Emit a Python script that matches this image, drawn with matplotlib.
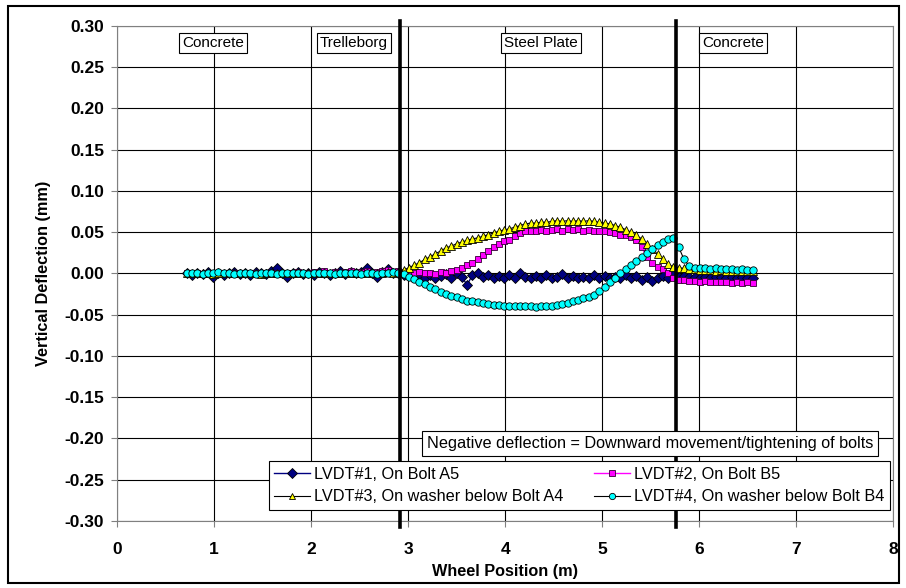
import numpy as np
import matplotlib
matplotlib.use("Agg")
import matplotlib.pyplot as plt
from matplotlib.patches import Rectangle

plt.rcParams['font.family'] = ['Liberation Sans', 'DejaVu Sans']

# wheel positions (m), evenly sampled from 0.72 to 6.55
wheel_pos = np.linspace(0.72, 6.5515, 108)

# LVDT#1, On Bolt A5
lvdt1 = [
    0.000, -0.002, 0.001, -0.001, 0.002, -0.004, 0.001, -0.002, 0.000, 0.002,
    -0.001, 0.001, -0.002, 0.002, 0.000, -0.001, 0.003, 0.006, 0.001, -0.004,
    0.000, 0.002, -0.001, 0.001, -0.002, 0.002, 0.000, -0.002, 0.001, 0.003,
    -0.001, 0.002, 0.000, 0.002, 0.006, 0.001, -0.004, 0.002, 0.005, 0.000,
    0.001, -0.002, 0.000, -0.004, -0.001, -0.005, -0.002, -0.006, -0.003, -0.001,
    -0.005, 0.000, -0.004, -0.014, -0.002, 0.001, -0.004, -0.002, -0.006, -0.003,
    -0.006, -0.002, -0.005, 0.001, -0.004, -0.006, -0.003, -0.005, -0.002, -0.006,
    -0.004, -0.001, -0.005, -0.003, -0.006, -0.004, -0.005, -0.002, -0.006, -0.003,
    -0.005, -0.004, -0.006, -0.002, -0.005, -0.003, -0.008, -0.004, -0.009, -0.005,
    -0.003, -0.006, -0.002, -0.004, -0.003, -0.004, -0.004, -0.005, -0.004, -0.005,
    -0.004, -0.004, -0.005, -0.004, -0.005, -0.004, -0.005, -0.005,
]

# LVDT#2, On Bolt B5
lvdt2 = [
    0.000, 0.001, 0.000, -0.001, 0.000, 0.001, 0.000, 0.000, -0.001, 0.000,
    0.001, 0.000, 0.000, 0.001, -0.001, 0.000, 0.001, 0.000, 0.000, 0.001,
    0.000, 0.002, 0.001, 0.000, 0.002, 0.001, 0.003, 0.001, 0.002, 0.000,
    0.002, 0.003, 0.001, 0.002, 0.003, 0.001, 0.002, 0.003, 0.004, 0.002,
    0.003, 0.002, 0.001, 0.000, 0.002, 0.000, 0.001, -0.001, 0.002, 0.000,
    0.003, 0.004, 0.006, 0.010, 0.013, 0.018, 0.022, 0.027, 0.032, 0.036,
    0.039, 0.041, 0.045, 0.049, 0.051, 0.052, 0.051, 0.053, 0.052, 0.053,
    0.054, 0.052, 0.054, 0.053, 0.054, 0.052, 0.053, 0.052, 0.051, 0.052,
    0.050, 0.049, 0.047, 0.046, 0.044, 0.041, 0.032, 0.020, 0.013, 0.008,
    0.005, 0.001, -0.006, -0.008, -0.008, -0.009, -0.009, -0.010, -0.009, -0.010,
    -0.011, -0.010, -0.011, -0.012, -0.011, -0.012, -0.011, -0.012,
]

# LVDT#3, On washer below Bolt A4
lvdt3 = [
    0.000, 0.000, 0.001, 0.000, 0.000, -0.001, 0.000, 0.001, 0.000, 0.000,
    0.000, 0.001, 0.000, 0.000, -0.001, 0.000, 0.000, 0.001, 0.000, 0.000,
    0.001, 0.000, 0.000, 0.000, 0.001, 0.000, 0.000, 0.001, 0.000, 0.001,
    0.000, 0.001, 0.000, 0.001, 0.001, 0.000, 0.001, 0.001, 0.002, 0.001,
    0.002, 0.004, 0.007, 0.010, 0.013, 0.017, 0.020, 0.024, 0.027, 0.031,
    0.033, 0.036, 0.038, 0.040, 0.042, 0.043, 0.045, 0.047, 0.049, 0.051,
    0.053, 0.054, 0.056, 0.058, 0.060, 0.061, 0.061, 0.062, 0.062, 0.063,
    0.064, 0.063, 0.064, 0.063, 0.064, 0.063, 0.064, 0.063, 0.062, 0.061,
    0.060, 0.058, 0.056, 0.053, 0.050, 0.046, 0.042, 0.036, 0.030, 0.023,
    0.017, 0.011, 0.008, 0.007, 0.006, 0.005, 0.005, 0.004, 0.004, 0.004,
    0.003, 0.004, 0.003, 0.003, 0.003, 0.003, 0.003, 0.003,
]

# LVDT#4, On washer below Bolt B4
lvdt4 = [
    0.000, 0.001, 0.000, -0.001, 0.001, 0.000, 0.002, 0.001, 0.000, -0.001,
    0.001, 0.000, 0.001, -0.001, 0.000, 0.001, 0.000, -0.001, 0.000, 0.001,
    0.000, 0.001, 0.000, -0.001, 0.000, 0.001, 0.000, 0.000, -0.001, 0.000,
    0.001, 0.000, 0.000, -0.001, 0.000, 0.000, -0.001, 0.000, 0.001, 0.002,
    0.001, -0.001, -0.004, -0.007, -0.010, -0.013, -0.016, -0.019, -0.022, -0.025,
    -0.027, -0.029, -0.031, -0.033, -0.034, -0.035, -0.036, -0.037, -0.038, -0.038,
    -0.039, -0.039, -0.040, -0.040, -0.040, -0.040, -0.041, -0.040, -0.040, -0.039,
    -0.038, -0.037, -0.036, -0.034, -0.032, -0.030, -0.029, -0.026, -0.021, -0.016,
    -0.010, -0.005, 0.000, 0.005, 0.010, 0.015, 0.020, 0.025, 0.030, 0.034,
    0.038, 0.042, 0.043, 0.032, 0.017, 0.009, 0.007, 0.006, 0.006, 0.005,
    0.006, 0.005, 0.005, 0.005, 0.004, 0.005, 0.004, 0.004,
]

# material zones and boundaries
zone_labels = ['Concrete', 'Trelleborg', 'Steel Plate', 'Concrete']
zone_x = [0.99, 2.44, 4.37, 6.35]
boundaries = [2.92, 5.76]

y_ticks = np.round(np.arange(-0.30, 0.301, 0.05), 2) + 0.0

fig = plt.figure(figsize=(9.06, 5.88), dpi=100)
ax = fig.add_axes([0.129, 0.114, 0.857, 0.842])

h1, = ax.plot(wheel_pos, lvdt1, color='#000080', lw=1, marker='D', ms=5.5,
              mfc='#000080', mec='black', mew=0.6, label='LVDT#1, On Bolt A5')
h2, = ax.plot(wheel_pos, lvdt2, color='#FF00FF', lw=1, marker='s', ms=5,
              mfc='#FF00FF', mec='#330033', mew=0.6, label='LVDT#2, On Bolt B5')
h3, = ax.plot(wheel_pos, lvdt3, color='black', lw=0.8, marker='^', ms=5.5,
              mfc='#FFFF00', mec='black', mew=0.6, label='LVDT#3, On washer below Bolt A4')
h4, = ax.plot(wheel_pos, lvdt4, color='black', lw=0.8, marker='o', ms=5.3,
              mfc='#00FFFF', mec='black', mew=0.6, label='LVDT#4, On washer below Bolt B4')

for b in boundaries:
    ax.plot([b, b], [-0.307, 0.306], color='black', lw=2.6, clip_on=False, zorder=5)

for lab, zx in zip(zone_labels, zone_x):
    ax.text(zx, 0.279, lab, ha='center', va='center', fontsize=11,
            bbox=dict(boxstyle='square,pad=0.2', fc='white', ec='black', lw=0.8))

ax.text(5.49, -0.2065, 'Negative deflection = Downward movement/tightening of bolts',
        ha='center', va='center', fontsize=11.7, zorder=6,
        bbox=dict(boxstyle='square,pad=0.3', fc='white', ec='black', lw=0.8))

ax.set_xlim(0, 8)
ax.set_ylim(-0.30, 0.30)
ax.set_xticks(np.arange(0, 9, 1))
ax.set_yticks(y_ticks)
ax.set_yticklabels([f'{v:.2f}' for v in y_ticks])
ax.grid(True, color='black', lw=0.8)
ax.set_axisbelow(True)
for s in ax.spines.values():
    s.set_color('#808080')
ax.tick_params(axis='both', colors='#808080', length=4, labelcolor='black', labelsize=12.5)
ax.tick_params(axis='y', pad=5)
ax.tick_params(axis='x', pad=11)
for t in ax.get_xticklabels() + ax.get_yticklabels():
    t.set_fontweight('bold')

ax.set_xlabel('Wheel Position (m)', fontsize=11.7, fontweight='bold', labelpad=5)
ax.set_ylabel('Vertical Deflection (mm)', fontsize=11.7, fontweight='bold', labelpad=10)

leg = ax.legend([h1, h3, h2, h4], [h.get_label() for h in (h1, h3, h2, h4)],
                loc='lower right', bbox_to_anchor=(0.996, 0.022), borderaxespad=0,
                ncol=2, fontsize=11.7,
                frameon=True, fancybox=False, edgecolor='black', framealpha=1,
                handlelength=2.2, handletextpad=0.25, columnspacing=1.9,
                borderpad=0.35, labelspacing=0.45, markerscale=0.85)
leg.get_frame().set_linewidth(0.8)
leg.set_zorder(7)

fig.patches.append(Rectangle((8 / 906, 5 / 588), 891 / 906, 577 / 588, transform=fig.transFigure,
                             fill=False, ec='black', lw=1.5))

fig.savefig('out.png', dpi=100)
